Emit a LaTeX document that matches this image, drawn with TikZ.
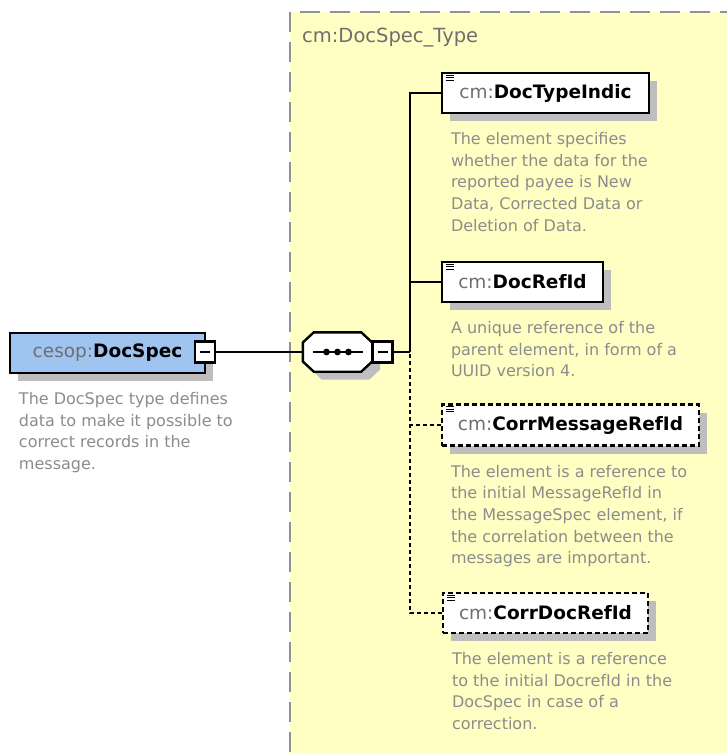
\documentclass[tikz,border=0pt]{standalone}
\usepackage{fontspec}
\setmainfont{DejaVu Sans}
\usetikzlibrary{positioning,calc,shadows}

\definecolor{typebg}{RGB}{255,255,196}
\definecolor{rootbg}{RGB}{160,196,240}
\definecolor{nsgray}{RGB}{110,110,110}
\definecolor{descgray}{RGB}{140,140,140}
\definecolor{shadowgray}{RGB}{190,190,190}
\definecolor{framegray}{RGB}{145,145,145}

\begin{document}
\begin{tikzpicture}[x=1pt,y=-1pt]
\tikzset{elem/.style={draw,line width=2.4pt,fill=white,minimum height=40pt,inner sep=0pt,
      font=\fontsize{18.5}{20}\selectfont,
      general shadow={fill=shadowgray,shadow xshift=8pt,shadow yshift=-8pt}},
   optelem/.style={elem,dash pattern=on 5pt off 3pt},
   desc/.style={below right=18pt and 10pt of #1.south west,inner sep=0pt,align=left,
      text=descgray,font=\fontsize{16}{21.7}\selectfont},
   minus/.style={draw,line width=2.2pt,fill=white,minimum width=20pt,minimum height=21pt,inner sep=0pt,
      path picture={\draw[line width=1.6pt] ([xshift=-5pt]path picture bounding box.center)
         -- ([xshift=5pt]path picture bounding box.center);}},
   seqbox/.style={minimum width=69pt,minimum height=39pt,inner sep=0pt},
   link/.style={line width=2.4pt},
   optlink/.style={line width=2.4pt,dash pattern=on 4pt off 3pt}};

   \useasboundingbox (0,0) rectangle (727,753);
   \fill[white] (0,0) rectangle (727,753);

   % complex type frame
   \fill[typebg] (290,12) rectangle (740,770);
   \draw[framegray,line width=2pt,dash pattern=on 20pt off 10pt] (740,12) -- (290,12) -- (290,770);
   \node[anchor=west,inner sep=0pt,text=nsgray,font=\fontsize{19.5}{22}\selectfont] (typename) at (302,38) {cm:DocSpec\_Type};

   % root element
   \node[elem,fill=rootbg,minimum width=195pt] (root) at (107.5,353) {\textcolor{nsgray}{cesop:}\textbf{DocSpec}};
   \node[minus] (rootm) at (205,352) {};
   \node[desc=root] (rootd) {The DocSpec type defines\\data to make it possible to\\correct records in the\\message.};

   % sequence
   \node[seqbox] (seq) at (337.5,352) {};
   \foreach \s/\c in {8/shadowgray,0/white}
      \filldraw[fill=\c,draw=black,line width=2.4pt,draw opacity=1-\s/8,transform canvas={shift={(\s pt,-\s pt)}}]
         ($(seq.west)+(0,-9.5)$) -- ($(seq.north west)+(11,0)$) -- ($(seq.north east)+(-11,0)$)
         -- ($(seq.east)+(0,-9.5)$) -- ($(seq.east)+(0,9.5)$) -- ($(seq.south east)+(-11,0)$)
         -- ($(seq.south west)+(11,0)$) -- ($(seq.west)+(0,9.5)$) -- cycle;
   \draw[line width=2pt] ($(seq.center)+(-25,0)$) -- ($(seq.center)+(25,0)$);
   \foreach \d in {-11,0,11}
      \fill ($(seq.center)+(\d,0)$) circle (3.4pt);
   \node[minus] (seqm) at (382.5,352) {};
   \coordinate (trunk) at (410,352);

   % children
   \node[elem,minimum width=207pt] (t1) at (545.5,93) {\textcolor{nsgray}{cm:}\textbf{DocTypeIndic}};
   \node[desc=t1] (t1d) {The element specifies\\whether the data for the\\reported payee is New\\Data, Corrected Data or\\Deletion of Data.};
   \node[elem,minimum width=161pt] (t2) at (522.5,282) {\textcolor{nsgray}{cm:}\textbf{DocRefId}};
   \node[desc=t2] (t2d) {A unique reference of the\\parent element, in form of a\\UUID version 4.};
   \node[optelem,minimum width=257pt,minimum height=41pt] (t3) at (570.5,425) {\textcolor{nsgray}{cm:}\textbf{CorrMessageRefId}};
   \node[desc=t3] (t3d) {The element is a reference to\\the initial MessageRefId in\\the MessageSpec element, if\\the correlation between the\\messages are important.};
   \node[optelem,minimum width=205pt] (t4) at (545.5,613) {\textcolor{nsgray}{cm:}\textbf{CorrDocRefId}};
   \node[desc=t4] (t4d) {The element is a reference\\to the initial DocrefId in the\\DocSpec in case of a\\correction.};

   \foreach \b in {t1,t2,t3,t4}
      \foreach \k in {0,1,2}
         \draw[line width=1pt] ($(\b.north west)+(5,3.5+2.5*\k)$) -- ++(8,0);

   \draw[link] (rootm) -- (seq);
   \draw[link] (seqm) -- (trunk);
   \draw[link] (t1.west) -| (trunk);
   \draw[link] (t2.west) -| (trunk);
   \draw[optlink] (t3.west) -| (trunk);
   \draw[optlink] (t4.west) -| (trunk);
\end{tikzpicture}
\end{document}
